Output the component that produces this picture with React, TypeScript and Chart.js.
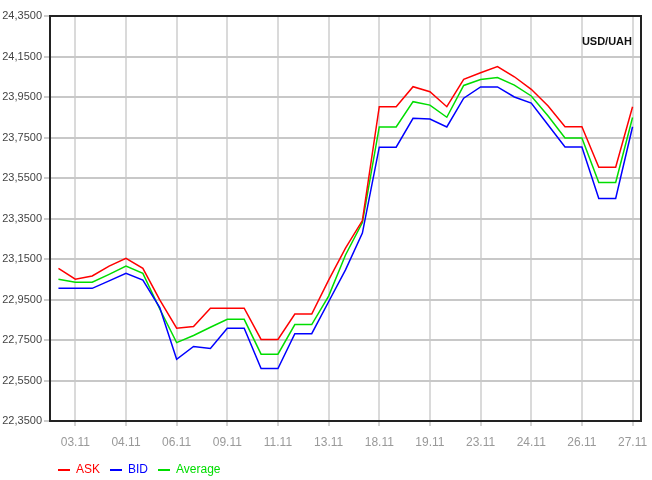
import React, { useEffect, useRef } from 'react';
import { Chart, registerables } from 'chart.js';

Chart.register(...registerables);

const tickLabels = ['03.11', '04.11', '06.11', '09.11', '11.11', '13.11', '18.11', '19.11', '23.11', '24.11', '26.11', '27.11'];

const askValues = [23.104, 23.05, 23.066, 23.115, 23.153, 23.104, 22.948, 22.808, 22.817, 22.907, 22.907, 22.907, 22.753, 22.753, 22.878, 22.878, 23.046, 23.204, 23.34, 23.902, 23.902, 24.001, 23.976, 23.902, 24.037, 24.07, 24.1, 24.05, 23.988, 23.906, 23.803, 23.803, 23.603, 23.603, 23.902];

const bidValues = [23.005, 23.005, 23.005, 23.042, 23.079, 23.046, 22.91, 22.655, 22.718, 22.708, 22.808, 22.808, 22.609, 22.609, 22.781, 22.781, 22.939, 23.096, 23.278, 23.702, 23.702, 23.845, 23.841, 23.802, 23.944, 24.0, 24.0, 23.95, 23.92, 23.812, 23.703, 23.703, 23.449, 23.449, 23.803];

const avgValues = [23.05, 23.035, 23.035, 23.074, 23.115, 23.079, 22.903, 22.737, 22.772, 22.813, 22.852, 22.852, 22.68, 22.68, 22.826, 22.826, 22.967, 23.17, 23.33, 23.802, 23.802, 23.927, 23.91, 23.85, 24.007, 24.036, 24.046, 24.009, 23.955, 23.856, 23.748, 23.748, 23.528, 23.528, 23.849];

const yTickValues = [22.35, 22.55, 22.75, 22.95, 23.15, 23.35, 23.55, 23.75, 23.95, 24.15, 24.35];

const seriesNames = ['ASK', 'BID', 'Average'];
const seriesColors = ['#ff0000', '#0000ff', '#00dd00'];
const pairLabel = 'USD/UAH';

const FONT = "'Liberation Sans', Arial, sans-serif";

const categories = askValues.map((_, i) => (i % 3 === 1 ? tickLabels[(i - 1) / 3] : ''));

const framePlugin = {
  id: 'frameAndPair',
  afterLayout(chart: any) {
    const lg = chart.legend;
    if (lg) {
      lg.left += 48;
      lg.right += 48;
      lg.top += 6;
      lg.bottom += 6;
    }
  },
  afterDraw(chart: any) {
    const { ctx, chartArea } = chart;
    ctx.save();
    ctx.strokeStyle = '#222';
    ctx.lineWidth = 2;
    ctx.strokeRect(chartArea.left, chartArea.top, chartArea.right - chartArea.left, chartArea.bottom - chartArea.top);
    ctx.fillStyle = '#111';
    ctx.font = `bold 11px ${FONT}`;
    ctx.textAlign = 'right';
    ctx.textBaseline = 'middle';
    ctx.fillText(pairLabel, chartArea.right - 9, chartArea.top + 26);
    ctx.restore();
  },
};

export default function App() {
  const canvasRef = useRef<HTMLCanvasElement | null>(null);

  useEffect(() => {
    document.body.style.margin = '0';
    const canvas = canvasRef.current;
    if (!canvas) return;
    const seriesData = [askValues, bidValues, avgValues];
    const chart = new Chart(canvas, {
      type: 'line',
      data: {
        labels: categories,
        datasets: seriesNames.map((name, k) => ({
          label: name,
          data: seriesData[k],
          borderColor: seriesColors[k],
          backgroundColor: seriesColors[k],
          borderWidth: 1.5,
          pointRadius: 0,
          tension: 0,
          fill: false,
        })),
      },
      options: {
        animation: false,
        responsive: false,
        layout: { padding: { top: 16, right: 11, left: 0, bottom: 0 } },
        plugins: {
          tooltip: { enabled: false },
          legend: {
            position: 'bottom',
            align: 'start',
            labels: {
              usePointStyle: true,
              pointStyleWidth: 12,
              padding: 10,
              font: { family: FONT, size: 12 },
              generateLabels: (ch: any) =>
                ch.data.datasets.map((ds: any, i: number) => ({
                  text: ds.label,
                  fillStyle: ds.borderColor,
                  strokeStyle: ds.borderColor,
                  fontColor: ds.borderColor,
                  lineWidth: 2,
                  pointStyle: 'line',
                  hidden: false,
                  datasetIndex: i,
                })),
            },
          },
        },
        scales: {
          x: {
            type: 'category',
            offset: true,
            afterBuildTicks: (scale: any) => {
              scale.ticks = scale.ticks.filter((t: any) => categories[t.value] !== '');
            },
            afterFit: (scale: any) => {
              scale.height = 27;
              scale.paddingLeft = 0;
              scale.paddingRight = 0;
            },
            grid: {
              offset: false,
              color: '#dadada',
              lineWidth: 2,
              tickLength: 5,
              tickColor: '#aaa',
              tickWidth: 1,
            },
            border: { display: false },
            ticks: {
              autoSkip: false,
              maxRotation: 0,
              padding: 9,
              color: '#999',
              font: { family: FONT, size: 12 },
            },
          },
          y: {
            type: 'linear',
            min: yTickValues[0],
            max: yTickValues[yTickValues.length - 1],
            afterBuildTicks: (scale: any) => {
              scale.ticks = yTickValues.map((v) => ({ value: v }));
            },
            afterFit: (scale: any) => {
              scale.width = 50;
              scale.paddingTop = 0;
              scale.paddingBottom = 0;
            },
            grid: {
              color: '#c8c8c8',
              lineWidth: 2,
              tickLength: 6,
              tickColor: '#999',
              tickWidth: 1,
            },
            border: { display: false },
            ticks: {
              padding: 2,
              color: '#444',
              font: { family: FONT, size: 11 },
              callback: (v: any) => Number(v).toFixed(4).replace('.', ','),
            },
          },
        },
      },
      plugins: [framePlugin],
    } as any);
    return () => chart.destroy();
  }, []);

  return (
    <div style={{ width: 652, height: 480 }}>
      <canvas ref={canvasRef} width={652} height={480} />
    </div>
  );
}
